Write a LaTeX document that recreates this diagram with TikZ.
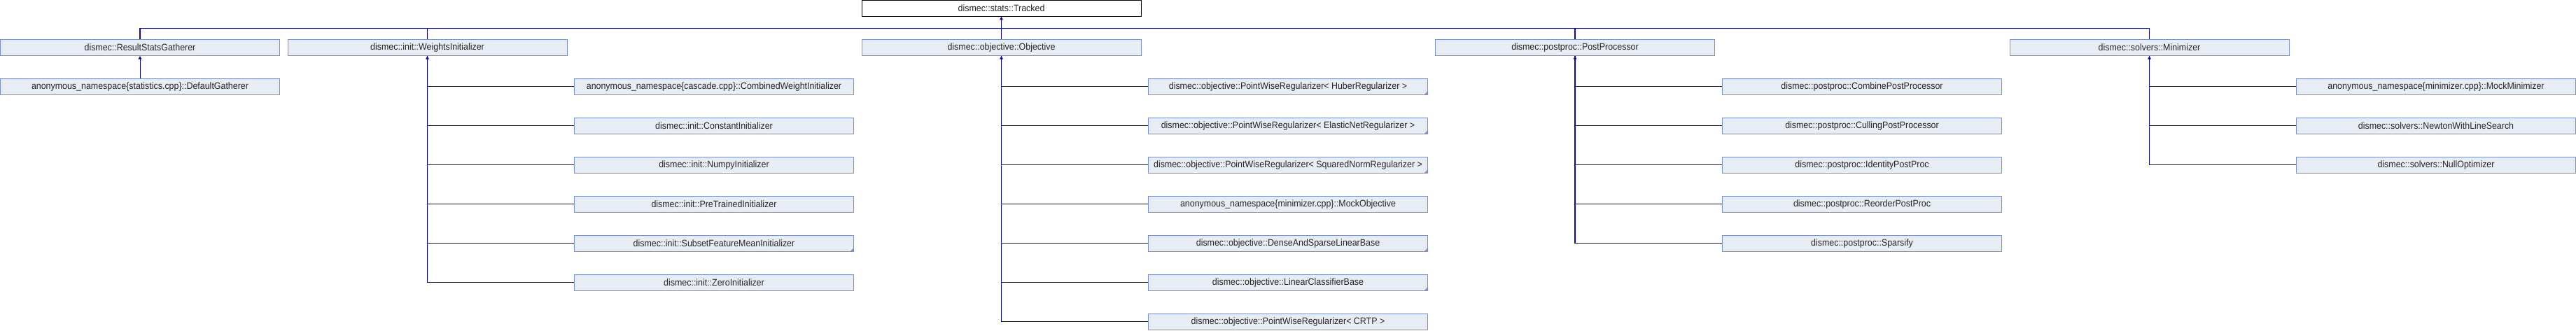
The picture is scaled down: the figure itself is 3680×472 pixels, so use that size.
\documentclass[tikz,border=0pt]{standalone}
\usepackage{fontspec}
\setmainfont[FakeStretch=0.92]{Liberation Sans}
\usetikzlibrary{arrows.meta}
\definecolor{lineblue}{RGB}{10,10,160}
\definecolor{boxfill}{RGB}{232,236,245}
\definecolor{boxline}{RGB}{120,145,205}
\tikzset{
  cls/.style={draw=boxline, fill=boxfill, line width=1pt, minimum width=399pt, minimum height=23pt,
    inner sep=0pt, font=\fontsize{13.5pt}{15pt}\selectfont, text=black!85},
  root/.style={cls, draw=black, fill=white},
  conn/.style={draw=lineblue, line width=1.3pt},
  inh/.style={conn, {Triangle[length=4.5pt,width=4.5pt]}-},
  more/.style={fill=boxline}
}
\newcommand{\corner}[1]{\fill[more] (#1.south east) -- ++(-6,0) -- ++(6,-6) -- cycle;}
\begin{document}
\begin{tikzpicture}[x=1pt,y=-1pt]
\useasboundingbox (0,0) rectangle (3680,472);
% root
\node[root] (trk) at (1430.5,11.75) {dismec::stats::Tracked};
% row 1
\node[cls] (rsg) at (200,68) {dismec::ResultStatsGatherer};
\node[cls] (wi) at (610.5,68) {dismec::init::WeightsInitializer};
\node[cls] (obj) at (1430.5,68) {dismec::objective::Objective};
\node[cls] (pp) at (2250,68) {dismec::postproc::PostProcessor};
\node[cls] (mini) at (3070.5,68) {dismec::solvers::Minimizer};
% children of ResultStatsGatherer
\node[cls] (dg) at (200,123.75) {anonymous\_namespace\{statistics.cpp\}::DefaultGatherer};
% children of WeightsInitializer
\node[cls] (w1) at (1020,123.75) {anonymous\_namespace\{cascade.cpp\}::CombinedWeightInitializer};
\node[cls] (w2) at (1020,179.75) {dismec::init::ConstantInitializer};
\node[cls] (w3) at (1020,235.75) {dismec::init::NumpyInitializer};
\node[cls] (w4) at (1020,291.75) {dismec::init::PreTrainedInitializer};
\node[cls] (w5) at (1020,347.75) {dismec::init::SubsetFeatureMeanInitializer};
\node[cls] (w6) at (1020,403.75) {dismec::init::ZeroInitializer};
% children of Objective
\node[cls] (o1) at (1840,123.75) {dismec::objective::PointWiseRegularizer< HuberRegularizer >};
\node[cls] (o2) at (1840,179.75) {dismec::objective::PointWiseRegularizer< ElasticNetRegularizer >};
\node[cls] (o3) at (1840,235.75) {dismec::objective::PointWiseRegularizer< SquaredNormRegularizer >};
\node[cls] (o4) at (1840,291.75) {anonymous\_namespace\{minimizer.cpp\}::MockObjective};
\node[cls] (o5) at (1840,347.75) {dismec::objective::DenseAndSparseLinearBase};
\node[cls] (o6) at (1840,403.75) {dismec::objective::LinearClassifierBase};
\node[cls] (o7) at (1840,459.75) {dismec::objective::PointWiseRegularizer< CRTP >};
% children of PostProcessor
\node[cls] (p1) at (2660,123.75) {dismec::postproc::CombinePostProcessor};
\node[cls] (p2) at (2660,179.75) {dismec::postproc::CullingPostProcessor};
\node[cls] (p3) at (2660,235.75) {dismec::postproc::IdentityPostProc};
\node[cls] (p4) at (2660,291.75) {dismec::postproc::ReorderPostProc};
\node[cls] (p5) at (2660,347.75) {dismec::postproc::Sparsify};
% children of Minimizer
\node[cls] (m1) at (3480,123.75) {anonymous\_namespace\{minimizer.cpp\}::MockMinimizer};
\node[cls] (m2) at (3480,179.75) {dismec::solvers::NewtonWithLineSearch};
\node[cls] (m3) at (3480,235.75) {dismec::solvers::NullOptimizer};
% corner markers
\corner{w5}\corner{o1}\corner{o2}\corner{o3}\corner{o5}\corner{o6}
% top bus
\coordinate (bus) at (1430.5,40.5);
\draw[conn] (rsg.north) |- (bus) -| (mini.north);
\draw[conn] (wi.north) -- (wi.north |- bus);
\draw[conn] (pp.north) -- (pp.north |- bus);
\draw[inh, line width=1pt] (trk.south) -- (obj.north);
% ResultStatsGatherer
\draw[inh, line width=1pt] (rsg.south) -- (dg.north);
% WeightsInitializer
\draw[inh] (wi.south) |- (w6.west);
\foreach \c in {w1,w2,w3,w4,w5} \draw[conn] (wi.south) |- (\c.west);
% Objective
\draw[inh] (obj.south) |- (o7.west);
\foreach \c in {o1,o2,o3,o4,o5,o6} \draw[conn] (obj.south) |- (\c.west);
% PostProcessor
\draw[inh] (pp.south) |- (p5.west);
\foreach \c in {p1,p2,p3,p4} \draw[conn] (pp.south) |- (\c.west);
% Minimizer
\draw[inh] (mini.south) |- (m3.west);
\foreach \c in {m1,m2} \draw[conn] (mini.south) |- (\c.west);
\end{tikzpicture}
\end{document}
